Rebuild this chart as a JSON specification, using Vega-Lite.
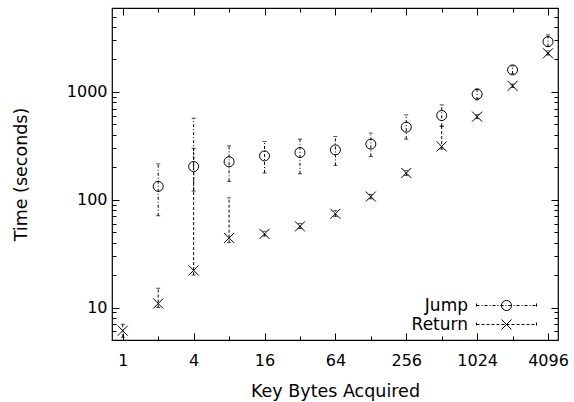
{
  "$schema": "https://vega.github.io/schema/vega-lite/v6.json",
  "width": 446,
  "height": 332,
  "autosize": {"type": "none"},
  "padding": {"left": 112, "top": 8, "right": 16, "bottom": 62},
  "config": {
    "font": "DejaVu Sans",
    "view": {"stroke": "black", "strokeWidth": 1.2},
    "axis": {"domain": false, "grid": false, "tickColor": "black", "labelColor": "black", "titleColor": "black", "labelFont": "DejaVu Sans", "titleFont": "DejaVu Sans", "labelFontSize": 16, "titleFontSize": 17.5, "titleFontWeight": "normal", "labelFlush": false, "labelOverlap": false, "tickWidth": 1}
  },
  "data": {"values": [
    {"x": 2, "series": "Jump", "y": 133, "lo": 71, "hi": 215},
    {"x": 4, "series": "Jump", "y": 203, "lo": 120, "hi": 570},
    {"x": 8, "series": "Jump", "y": 225, "lo": 148, "hi": 316},
    {"x": 16, "series": "Jump", "y": 255, "lo": 177, "hi": 347},
    {"x": 32, "series": "Jump", "y": 274, "lo": 174, "hi": 365},
    {"x": 64, "series": "Jump", "y": 290, "lo": 208, "hi": 385},
    {"x": 128, "series": "Jump", "y": 328, "lo": 252, "hi": 415},
    {"x": 256, "series": "Jump", "y": 471, "lo": 365, "hi": 612},
    {"x": 512, "series": "Jump", "y": 604, "lo": 480, "hi": 758},
    {"x": 1024, "series": "Jump", "y": 952, "lo": 843, "hi": 1066},
    {"x": 2048, "series": "Jump", "y": 1599, "lo": 1468, "hi": 1740},
    {"x": 4096, "series": "Jump", "y": 2925, "lo": 2633, "hi": 3375},
    {"x": 1, "series": "Return", "y": 6.1, "lo": 5.3, "hi": 7},
    {"x": 2, "series": "Return", "y": 10.9, "lo": 10, "hi": 15.1},
    {"x": 4, "series": "Return", "y": 22.1, "lo": 20, "hi": 300},
    {"x": 8, "series": "Return", "y": 44.2, "lo": 40, "hi": 104},
    {"x": 16, "series": "Return", "y": 48.2, "lo": 46, "hi": 51},
    {"x": 32, "series": "Return", "y": 56.6, "lo": 54, "hi": 60},
    {"x": 64, "series": "Return", "y": 74, "lo": 70, "hi": 79},
    {"x": 128, "series": "Return", "y": 107, "lo": 102, "hi": 112},
    {"x": 256, "series": "Return", "y": 177, "lo": 168, "hi": 186},
    {"x": 512, "series": "Return", "y": 312, "lo": 295, "hi": 480},
    {"x": 1024, "series": "Return", "y": 590, "lo": 565, "hi": 615},
    {"x": 2048, "series": "Return", "y": 1137, "lo": 1100, "hi": 1180},
    {"x": 4096, "series": "Return", "y": 2281, "lo": 2200, "hi": 2400}
  ]},
  "resolve": {"axis": {"x": "independent", "y": "independent"}},
  "layer": [
    {
      "mark": {"type": "rule", "color": "black", "strokeWidth": 1},
      "encoding": {
        "x": {"field": "x", "type": "quantitative",
          "scale": {"type": "log", "base": 2, "domain": [0.81, 4980], "nice": false},
          "axis": {"orient": "bottom", "title": "Key Bytes Acquired", "format": "d",
            "values": [1,2,4,8,16,32,64,128,256,512,1024,2048,4096],
            "labelExpr": "indexof([1,4,16,64,256,1024,4096], datum.value) >= 0 ? datum.label : ''",
            "tickSize": {"condition": {"test": "indexof([1,4,16,64,256,1024,4096], datum.value) >= 0", "value": -7}, "value": -4},
            "labelPadding": 19, "titlePadding": 11}},
        "y": {"field": "lo", "type": "quantitative",
          "scale": {"type": "log", "domain": [5, 6000], "nice": false},
          "axis": {"orient": "left", "title": "Time (seconds)", "format": "d",
            "values": [5,6,7,8,9,10,20,30,40,50,60,70,80,90,100,200,300,400,500,600,700,800,900,1000,2000,3000,4000,5000,6000],
            "labelExpr": "indexof([10,100,1000], datum.value) >= 0 ? datum.label : ''",
            "tickSize": {"condition": {"test": "indexof([10,100,1000], datum.value) >= 0", "value": -7}, "value": -4},
            "labelPadding": 12, "titlePadding": 36}},
        "y2": {"field": "hi"},
        "strokeDash": {"field": "series", "type": "nominal",
          "scale": {"range": [[3, 2, 1, 2], [3, 2]]},
          "legend": {"orient": "none", "legendX": 386, "legendY": 289, "title": null, "padding": 0,
            "symbolType": "M-6,-0.4V0.4M-6,0H6M6,-0.4V0.4", "symbolSize": 100, "symbolStrokeColor": "black", "symbolStrokeWidth": 1,
            "labelAlign": "right", "labelOffset": -47, "labelFontSize": 17, "labelFont": "DejaVu Sans", "labelColor": "black", "rowPadding": 1}}
      }
    },
    {
      "mark": {"type": "tick", "orient": "horizontal", "color": "black", "size": 4, "thickness": 1},
      "encoding": {
        "x": {"field": "x", "type": "quantitative", "axis": null},
        "y": {"field": "lo", "type": "quantitative", "axis": null}
      }
    },
    {
      "mark": {"type": "tick", "orient": "horizontal", "color": "black", "size": 4, "thickness": 1},
      "encoding": {
        "x": {"field": "x", "type": "quantitative", "axis": null},
        "y": {"field": "hi", "type": "quantitative", "axis": null}
      }
    },
    {
      "mark": {"type": "point", "filled": false, "color": "black", "strokeWidth": 1, "opacity": 1},
      "encoding": {
        "x": {"field": "x", "type": "quantitative",
          "axis": {"orient": "top", "title": null, "labels": false,
            "values": [1,2,4,8,16,32,64,128,256,512,1024,2048,4096],
            "tickSize": {"condition": {"test": "indexof([1,4,16,64,256,1024,4096], datum.value) >= 0", "value": -7}, "value": -4}}},
        "y": {"field": "y", "type": "quantitative",
          "axis": {"orient": "right", "title": null, "labels": false,
            "values": [5,6,7,8,9,10,20,30,40,50,60,70,80,90,100,200,300,400,500,600,700,800,900,1000,2000,3000,4000,5000,6000],
            "tickSize": {"condition": {"test": "indexof([10,100,1000], datum.value) >= 0", "value": -7}, "value": -4}}},
        "shape": {"field": "series", "type": "nominal",
          "scale": {"domain": ["Jump", "Return"], "range": ["circle", "M-1,-1L1,1M-1,1L1,-1"]},
          "legend": {"orient": "none", "legendX": 386, "legendY": 289, "title": null, "padding": 0,
            "symbolSize": 100, "symbolStrokeColor": "black", "symbolFillColor": "transparent", "symbolStrokeWidth": 1,
            "labelAlign": "right", "labelOffset": -47, "labelFontSize": 17, "labelOpacity": 0, "rowPadding": 1}},
        "size": {"value": 100}
      }
    }
  ]
}
